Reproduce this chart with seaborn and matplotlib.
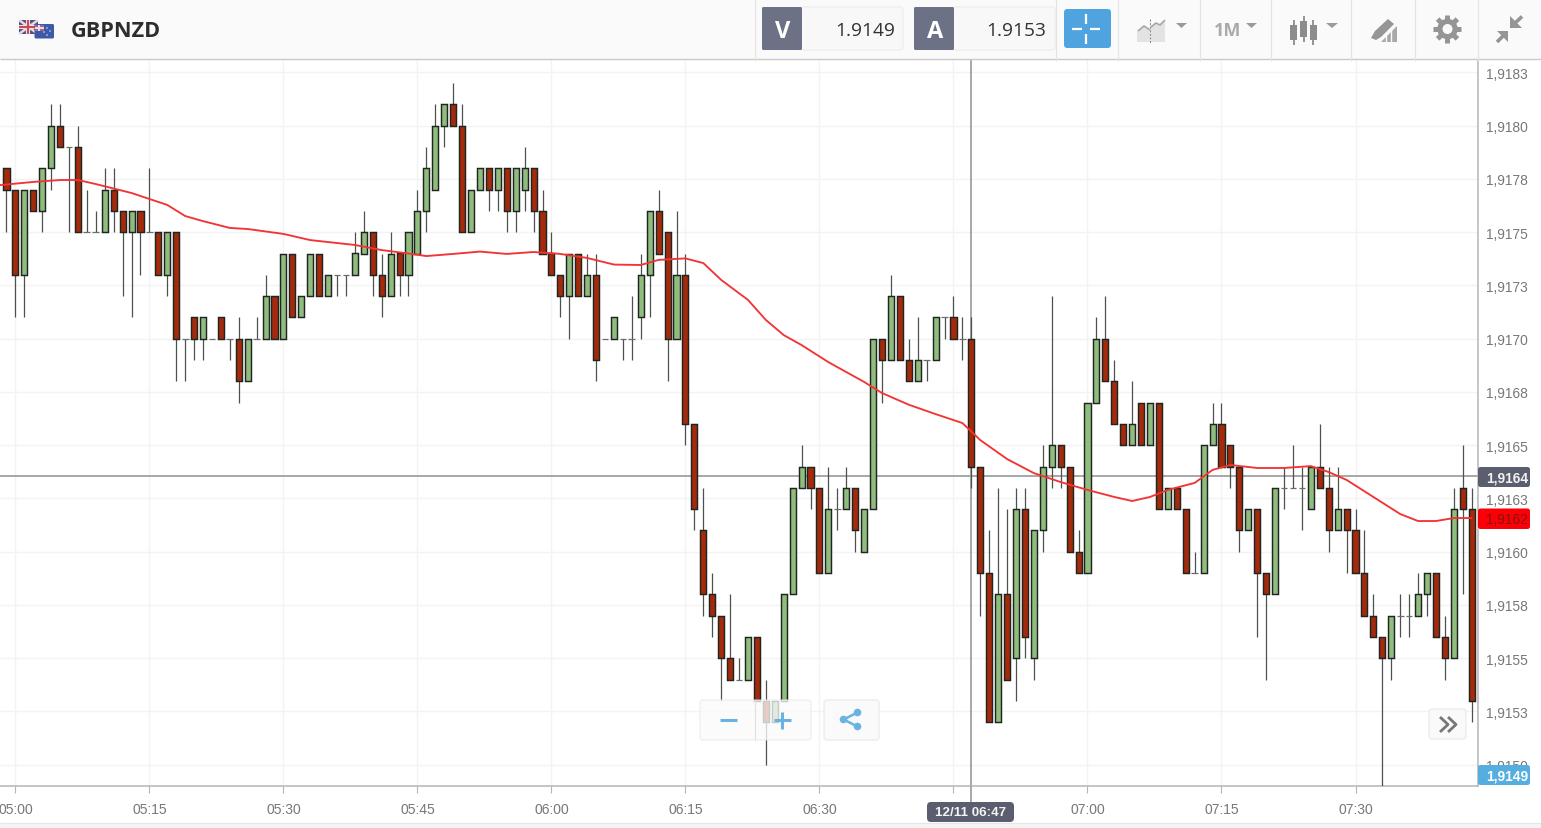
import numpy as np
import pandas as pd
import seaborn as sns
import matplotlib
matplotlib.use("Agg")
import matplotlib.pyplot as plt
from matplotlib.patches import FancyBboxPatch, Rectangle, Polygon, Circle

# ---------- data (prices in pips above 1.9100, one candle per minute from 04:59) ----------
minutes = list(range(-1, 164))
opens = [78,
 77,73,77,76,78,80,79,79,75,75, 75,77,76,75,76,75,75,73,75,70,
 71,70,70,71,70,70,68,70,70,72, 70,74,71,72,74,72,73,73,73,74,
 75,73,72,74,73,74,76,77,80,81, 80,75,77,78,77,78,76,77,78,76,
 74,73,72,74,72,73,70,70,70,70, 71,73,76,75,70,73,66,61,58,57,
 55,54,54,56,53,52,53,58,63,64, 63,59,62,62,63,60,62,70,69,72,
 69,68,69,69,71,71,70,70,64,59, 52,58,55,62,55,61,64,65,64,60,
 59,67,70,68,66,65,67,65,67,62, 63,62,59,59,65,66,65,64,61,62,
 59,58,63,63,63,62,64,63,61,62, 61,59,57,56,55,57,57,57,58,59,
 56,55,63,62]
closes = [77,
 73,77,76,78,80,79,79,75,75,75, 77,76,75,76,75,75,73,75,70,70,
 70,71,70,70,70,68,70,70,72,70, 74,71,72,74,72,73,73,73,74,75,
 73,72,74,73,75,76,78,80,81,80, 75,77,78,77,78,76,78,78,76,74,
 73,72,74,72,73,69,70,71,70,70, 73,76,74,70,73,66,62,58,57,55,
 54,54,56,53,52,53,58,63,64,63, 59,62,62,63,61,62,70,69,72,69,
 68,69,69,71,71,70,70,64,59,52, 58,54,62,56,61,64,65,64,60,59,
 67,70,68,66,65,66,65,67,62,63, 62,59,59,65,66,64,64,61,62,59,
 58,63,63,63,63,64,63,61,62,61, 59,57,56,55,57,57,57,58,59,56,
 55,62,62,53]
highs = [78,
 77,77,77,78,81,81,79,80,77,76, 78,78,76,76,76,78,75,75,75,70,
 71,71,70,71,70,71,70,71,73,72, 74,74,72,74,74,73,73,73,75,76,
 75,74,75,74,75,77,79,81,81,82, 81,77,78,78,78,78,78,79,78,77,
 75,73,74,74,74,74,70,71,70,72, 74,76,77,75,76,74,66,63,59,57,
 58,55,56,56,54,53,58,63,65,64, 63,64,63,64,63,62,70,70,73,72,
 70,71,69,71,71,72,71,71,64,61, 63,62,63,63,61,65,72,65,64,61,
 67,71,72,69,66,68,67,67,67,63, 63,62,60,65,67,67,65,64,62,62,
 59,63,64,65,64,64,66,64,64,62, 62,61,58,56,57,58,58,59,59,59,
 57,63,65,63]
lows = [75,
 71,71,76,75,77,79,75,75,75,75, 75,75,72,71,73,75,73,72,68,68,
 69,69,70,70,69,67,68,70,70,70, 70,71,71,72,72,72,72,72,73,74,
 72,71,72,72,72,74,75,77,79,80, 75,75,77,76,76,75,75,76,75,74,
 73,71,70,72,72,68,70,70,69,69, 70,71,74,68,70,65,61,57,56,53,
 54,54,54,53,50,52,53,58,63,62, 59,59,61,62,60,60,62,67,69,69,
 68,68,68,69,70,70,69,63,57,52, 52,54,53,55,54,60,63,63,60,59,
 59,67,68,66,65,65,65,65,62,62, 62,59,59,59,65,64,63,60,61,56,
 54,58,62,63,61,62,63,60,61,59, 59,57,56,49,54,56,56,57,57,56,
 54,55,58,52]

ma_minutes = [-2,2,5,7,9,13,17,19,21,24,26,30,33,38,41,44,46,49,52,55,58,61,64,67,70,72,75,77,79,82,
              84,86,88,91,95,97,100,103,106,108,111,114,117,120,123,125,127,129,132,134,136,139,142,
              145,147,149,152,155,157,159,161,163]
ma_values = [77.2,77.36,77.45,77.45,77.26,76.84,76.28,75.76,75.52,75.2,75.15,74.92,74.63,74.4,74.16,74.0,
             73.88,73.98,74.09,73.98,74.07,73.98,73.79,73.48,73.46,73.7,73.77,73.55,72.76,71.82,
             70.88,70.17,69.7,68.9,67.97,67.45,66.9,66.46,66.04,65.24,64.35,63.69,63.27,62.9,62.57,
             62.38,62.57,62.9,63.23,63.84,64.07,63.93,63.93,64.02,63.74,63.37,62.57,61.77,61.44,
             61.44,61.58,61.58]

time_ticks = [0, 15, 30, 45, 60, 75, 90, 105, 120, 135, 150]
time_labels = ["05:00", "05:15", "05:30", "05:45", "06:00", "06:15", "06:30", "", "07:00", "07:15", "07:30"]
price_ticks = [1.91825, 1.918, 1.91775, 1.9175, 1.91725, 1.917, 1.91675, 1.9165, 1.91625, 1.916,
               1.91575, 1.9155, 1.91525, 1.915]
price_labels = ["1,9183", "1,9180", "1,9178", "1,9175", "1,9173", "1,9170", "1,9168", "1,9165", "1,9163",
                "1,9160", "1,9158", "1,9155", "1,9153", "1,9150"]

symbol = "GBPNZD"
sell_price, buy_price = "1.9149", "1.9153"
cross_minute, cross_price = 107, 1.916355
cross_time_label = "12/11 06:47"
cross_price_label, last_price_label, low_price_label = "1,9164", "1,9162", "1,9149"

# ---------- style ----------
sns.set_theme(style="white")
plt.rcParams["font.family"] = ["Liberation Sans", "DejaVu Sans"]
UP, DOWN, EDGE = "#90bc7e", "#a52a0c", "#1f2622"
GRID, SPINE, TXT = "#f3f3f3", "#b5b5b5", "#777777"
ICON, BLUE, SLATE = "#9a9a9a", "#68b3e0", "#6c7186"
OPEN_SANS = ["Open Sans", "DejaVu Sans"]

W, H = 1541, 829
fig = plt.figure(figsize=(W / 100, H / 100), dpi=100, facecolor="white")
top_px, bot_px, right_px = 61, 787, 1478
ax = fig.add_axes([0, (H - bot_px) / H, right_px / W, (bot_px - top_px) / H])

df = pd.DataFrame({"minute": minutes, "open": opens, "close": closes, "high": highs, "low": lows})
for c in ["open", "close", "high", "low"]:
    df[c] = 1.91 + df[c] / 10000.0
ma = pd.DataFrame({"minute": ma_minutes, "ma": 1.91 + np.array(ma_values) / 10000.0})

# candles
ax.vlines(df["minute"], df["low"], df["high"], color="#4c5150", lw=0.9, zorder=3)
body = df[df["open"] != df["close"]]
colors = [UP if c > o else DOWN for o, c in zip(body["open"], body["close"])]
ax.bar(body["minute"], (body["close"] - body["open"]).abs(), bottom=body[["open", "close"]].min(axis=1),
       width=0.68, color=colors, edgecolor=EDGE, linewidth=1.05, zorder=4)
doji = df[df["open"] == df["close"]]
ax.hlines(doji["open"], doji["minute"] - 0.38, doji["minute"] + 0.38, color="#6a6e6d", lw=0.9, zorder=3)

# moving average through seaborn
sns.lineplot(data=ma, x="minute", y="ma", ax=ax, color="#f23434", lw=1.35, zorder=5, legend=False, errorbar=None)

# crosshair
ax.axhline(cross_price, color="#9c9c9c", lw=1.25, zorder=2)
ax.axvline(cross_minute, color="#9c9c9c", lw=1.25, zorder=2)

ax.set_xlim((0 - 15.4) / 8.934, (right_px - 15.4) / 8.934)
ax.set_ylim(1.9149, 1.9149 + (bot_px - top_px) / 213000)
ax.set_xticks(time_ticks, time_labels)
ax.set_yticks(price_ticks, price_labels)
ax.yaxis.tick_right()
ax.grid(True, color=GRID, lw=1.0, zorder=0)
ax.set_axisbelow(True)
ax.tick_params(axis="x", length=5, width=0.8, color=SPINE, pad=6.5, labelsize=10, labelcolor=TXT, bottom=True)
ax.tick_params(axis="y", length=0, pad=5.6, labelsize=9.9, labelcolor=TXT)
ax.set_xlabel("")
ax.set_ylabel("")
for s in ["top", "left"]:
    ax.spines[s].set_visible(False)
for s in ["right", "bottom"]:
    ax.spines[s].set_visible(True)
    ax.spines[s].set_color(SPINE)
    ax.spines[s].set_linewidth(1.1)

# ---------- interface chrome, in pixel coordinates ----------
ov = fig.add_axes([0, 0, 1, 1], zorder=10)
ov.set_xlim(0, W)
ov.set_ylim(H, 0)
ov.axis("off")
ov.patch.set_alpha(0)


def box(x0, y0, x1, y1, fc, ec="none", r=3, lw=0.8, alpha=1, z=2):
    p = FancyBboxPatch((x0, y0), x1 - x0, y1 - y0, boxstyle=f"round,pad=0,rounding_size={r}",
                       fc=fc, ec=ec, lw=lw, alpha=alpha, zorder=z)
    ov.add_patch(p)
    return p


def rect(x0, y0, x1, y1, fc, z=2, alpha=1):
    ov.add_patch(Rectangle((x0, y0), x1 - x0, y1 - y0, fc=fc, ec="none", zorder=z, alpha=alpha))


def seg(xs, ys, color, lw=1.0, z=3, **kw):
    ov.plot(xs, ys, color=color, lw=lw, zorder=z, solid_capstyle="butt", **kw)


def caret(x0, x1, y0, y1, color=ICON):
    ov.add_patch(Polygon([(x0, y0), (x1, y0), ((x0 + x1) / 2, y1)], fc=color, ec="none", zorder=3))


# toolbar and bottom strip
rect(0, 0, W, 60, "#fafafa", z=1)
seg([0, W], [60, 60], "#c9c9c9", lw=1.0, z=2)
for x in [755, 1056, 1118.5, 1200, 1271, 1351.5, 1415, 1478.5]:
    seg([x, x], [0, 62], "#e4e4e4", lw=0.9, z=2)
rect(0, 824, W, H, "#f4f4f4", z=1)
seg([0, W], [823.8, 823.8], "#e6e6e6", lw=0.8, z=2)

# flags
rect(19, 21, 38, 35, "#4a4f8c", z=2)
seg([19, 38], [21, 35], "#e9d9e0", lw=1.8)
seg([19, 38], [35, 21], "#e9d9e0", lw=1.8)
seg([28.5, 28.5], [21, 35], "#f4f0f0", lw=3.0)
seg([19, 38], [28, 28], "#f4f0f0", lw=3.0)
seg([28.5, 28.5], [21, 35], "#d0484e", lw=1.6)
seg([19, 38], [28, 28], "#d0484e", lw=1.6)
box(34.5, 25, 54, 39.5, "#3d5aa8", r=1.5, z=4)
rect(35, 25.5, 44, 32, "#b56a92", z=5, alpha=0.8)
seg([39.5, 39.5], [25.5, 32], "#f0dce4", lw=1.4, z=6)
seg([35, 44], [28.7, 28.7], "#f0dce4", lw=1.4, z=6)
for sx, sy in [(47, 29), (50, 32), (47, 36), (44, 33)]:
    ov.add_patch(Circle((sx, sy), 0.8, fc="#e8c8d4", ec="none", zorder=6))
ov.text(71, 31, symbol, fontsize=15.6, fontweight="bold", family=OPEN_SANS,
        color="#2d2d2d", va="center", ha="left", zorder=3)

# sell / buy boxes
for x0, letter, val, vx in [(762, "V", sell_price, 895), (914, "A", buy_price, 1046)]:
    box(x0 + 38, 8, x0 + 141, 51, "#f8f8f8", ec="#ececec", r=3, z=2)
    box(x0, 8, x0 + 40, 51, SLATE, r=1.5, z=3)
    ov.text(x0 + 21, 31.5, letter, fontsize=17, fontweight="bold", family=OPEN_SANS,
            color="white", ha="center", va="center", zorder=4)
    ov.text(vx, 31, val, fontsize=13.8, family=OPEN_SANS, color="#333333",
            ha="right", va="center", zorder=4)

# crosshair button
box(1064, 10, 1111, 49, "#4fa3df", r=3.5, z=3)
for xs, ys in [([1072, 1082], [30, 30]), ([1090, 1100], [30, 30]), ([1086, 1086], [15, 25]), ([1086, 1086], [35, 45])]:
    seg(xs, ys, "white", lw=1.6, z=4)

# chart type icon
ov.add_patch(Polygon([(1137, 43), (1137, 32), (1144, 26), (1150, 31), (1150, 43)], fc="#e3e3e3", ec="none", zorder=3))
ov.add_patch(Polygon([(1151, 43), (1151, 27), (1156, 24), (1160, 25), (1165, 21), (1165, 43)], fc="#e3e3e3", ec="none", zorder=3))
seg([1138, 1144, 1150], [32, 27, 31], "#a8a8a8", lw=1.2, z=4)
seg([1151, 1156, 1160, 1165], [28, 24, 26, 21], "#a8a8a8", lw=1.2, z=4)
seg([1150.5, 1150.5], [20, 44], "#909090", lw=0.8, z=5, linestyle=(0, (2, 1.2)))
caret(1176, 1187, 24, 29)
ov.text(1227.5, 31, "1M", fontsize=13, fontweight="bold", color="#aaaaaa", ha="center", va="center", zorder=3,
        family=OPEN_SANS)
caret(1246, 1257, 24, 29)

# candle icon
for cx, wt, wb, bt, bb in [(1294, 21, 46, 26, 41), (1304, 17, 43, 22, 38), (1313.5, 21, 46, 26, 41)]:
    seg([cx, cx], [wt, wb], "#8c8c8c", lw=1.3, z=3)
    rect(cx - 3.5, bt, cx + 3.5, bb, "#8c8c8c", z=3)
caret(1326, 1338, 24, 29)

# drawing tool icon
ov.add_patch(Polygon([(1371, 39), (1375, 32), (1388, 20), (1394, 25), (1381, 38), (1376, 41)], fc="#969696", ec="none", zorder=3))
ov.add_patch(Polygon([(1381, 43), (1397, 27), (1397, 43)], fc="#a8a8a8", ec="none", zorder=3))
seg([1386, 1386], [36, 43], "#fafafa", lw=1.0, z=4)
seg([1391.5, 1391.5], [31, 43], "#fafafa", lw=1.0, z=4)

# gear icon
gx, gy = 1447.5, 30
ov.add_patch(Circle((gx, gy), 10.2, fc="#959595", ec="none", zorder=3))
for a in np.deg2rad(np.arange(0, 360, 45)):
    seg([gx + 8 * np.cos(a), gx + 14 * np.cos(a)], [gy + 8 * np.sin(a), gy + 14 * np.sin(a)], "#959595", lw=3.6, z=3)
ov.add_patch(Circle((gx, gy), 5, fc="#fafafa", ec="none", zorder=4))

# collapse icon
ov.add_patch(Polygon([(1510, 17), (1510, 28.5), (1522, 28.5)], fc="#959595", ec="none", zorder=3))
seg([1513, 1522], [26, 17.5], "#959595", lw=2.6, z=3)
ov.add_patch(Polygon([(1497, 31.5), (1508.5, 31.5), (1508.5, 43)], fc="#959595", ec="none", zorder=3))
seg([1505, 1497], [35, 43], "#959595", lw=2.6, z=3)

# zoom and share buttons
box(700, 701, 811, 741, "#fafafa", ec="#e8e8e8", r=3, alpha=0.78, z=3)
seg([754.7, 754.7], [701, 741], "#e0e0e0", lw=0.8, z=4)
seg([720, 737], [721, 721], BLUE, lw=2.2, z=4)
seg([774, 791], [721, 721], BLUE, lw=2.2, z=4)
seg([782.5, 782.5], [712.5, 729.5], BLUE, lw=2.2, z=4)
box(824, 701, 879, 741, "#fafafa", ec="#e8e8e8", r=3, z=3)
sh = [(843.5, 720.5), (857.5, 713.5), (857.5, 727.5)]
seg([sh[1][0], sh[0][0], sh[2][0]], [sh[1][1], sh[0][1], sh[2][1]], BLUE, lw=1.8, z=4)
for cx, cy in sh:
    ov.add_patch(Circle((cx, cy), 3.8, fc=BLUE, ec="none", zorder=5))

# scroll button
box(1429, 710, 1466, 740, "#fafafa", ec="#e8e8e8", r=3, z=3)
for dx in [0, 8]:
    seg([1440 + dx, 1448 + dx, 1440 + dx], [718, 725.5, 733], "#777777", lw=2.0, z=4)

# crosshair foot and value flags
seg([971.3, 971.3], [787, 803], "#9c9c9c", lw=1.25, z=2)
box(927, 803, 1014, 823, "#5a5e6e", r=4, z=3)
ov.text(970.5, 813, cross_time_label, fontsize=9.6, fontweight="bold", color="#f4f4f4", ha="center", va="center", zorder=4)
box(1478, 468, 1530, 488, "#5a5e6e", r=2.5, z=3)
ov.text(1486, 478.5, cross_price_label, fontsize=9.9, fontweight="bold", color="#f2f2f2", ha="left", va="center", zorder=4)
box(1478, 509.5, 1530, 530, "#fb0006", r=2.5, z=3)
ov.text(1486, 520.5, last_price_label, fontsize=9.9, color="#8a1010", ha="left", va="center", zorder=4)
box(1478, 766, 1530, 786, "#55aee0", r=2.5, z=3)
ov.text(1486, 776.5, low_price_label, fontsize=9.9, fontweight="bold", color="white", ha="left", va="center", zorder=4)

fig.savefig("out.png", dpi=100, facecolor="white")
